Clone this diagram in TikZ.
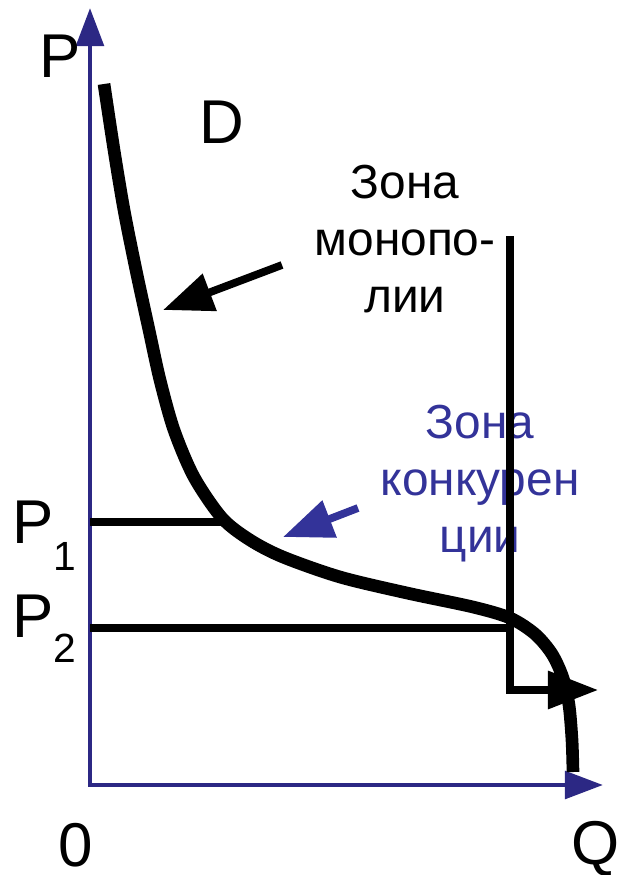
\documentclass[tikz,border=0pt]{standalone}
\usepackage{fontspec}
\setmainfont{Liberation Sans}
\usetikzlibrary{arrows.meta}
\definecolor{axisBlue}{RGB}{44,40,132}
\definecolor{zoneBlue}{RGB}{51,51,153}

\begin{document}
\begin{tikzpicture}[x=0.025cm,y=-0.025cm,
	axis/.style={
		draw=axisBlue, line width=3.5pt,
		{Triangle[length=0.95cm,width=0.68cm]}-{Triangle[length=0.95cm,width=0.68cm]}
	},
	level/.style={draw=black, line width=5pt},
	demand/.style={draw=black, line width=9pt},
	pointer/.style={line width=5.5pt, -{Triangle[length=1.25cm,width=0.95cm]}},
	big/.style={font=\fontsize{44pt}{46pt}\selectfont, inner sep=0pt},
	zone/.style={font=\fontsize{34pt}{40.5pt}\selectfont, align=center, inner sep=0pt}
	]
	\useasboundingbox (0,0) rectangle (619,875);

	% axes
	\coordinate (O) at (90,785);
	\coordinate (ytip) at (90,8);
	\coordinate (xtip) at (603,785);
	\draw[axis] (ytip) -- (O) -- (xtip);

	\node[big, anchor=base] (pAx) at (60,77) {P};
	\node[big, anchor=base] (qAx) at (596,864) {Q};
	\node[big, anchor=base] (zero) at (76,866) {0};
	\node[big, anchor=base] (dLbl) at (222,143) {D};

	% price levels
	\foreach \i/\yb/\drop in {1/543/0.675cm,2/637/0.625cm}
	\node[big, anchor=base west] (p\i) at (12,\yb)
		{P\raisebox{-\drop}{\fontsize{29pt}{29pt}\selectfont\i}};

	\coordinate (p1a) at (90,522);
	\coordinate (p1b) at (222,522);
	\coordinate (p2a) at (90,628);
	\coordinate (p2b) at (510,628);
	\draw[level] (p1a) -- (p1b);
	\draw[level] (p2a) -- (p2b);

	% zones
	\node[zone, anchor=north] (mono) at (405,165) {Зона\\монопо-\\лии};
	\node[zone, anchor=north, text=zoneBlue] (comp) at (480,405) {Зона\\конкурен\\ции};

	\coordinate (kTop) at (510,236);
	\coordinate (kCorner) at (510,690);
	\coordinate (kTip) at (598,690);
	\draw[level, -{Triangle[length=1.25cm,width=0.92cm]}] (kTop) -- (kCorner) -- (kTip);

	% demand curve
	\draw[demand] plot[smooth, tension=0.5] coordinates {
		(104,84) (114,150) (124,210) (136,270) (149,330) (160,380) (174,430)
		(194,477) (222,518) (250,540) (283,557) (340,577) (407,593) (473,607)
		(510,618) (535,634) (552,654) (563,678) (569,705) (572,740) (573,772)};

	% pointers
	\coordinate (mTail) at (282,265);
	\coordinate (mTip) at (163,310);
	\coordinate (cTail) at (358,508);
	\coordinate (cTip) at (283,537);
	\draw[pointer] (mTail) -- (mTip);
	\draw[pointer, draw=zoneBlue, fill=zoneBlue] (cTail) -- (cTip);
\end{tikzpicture}
\end{document}
